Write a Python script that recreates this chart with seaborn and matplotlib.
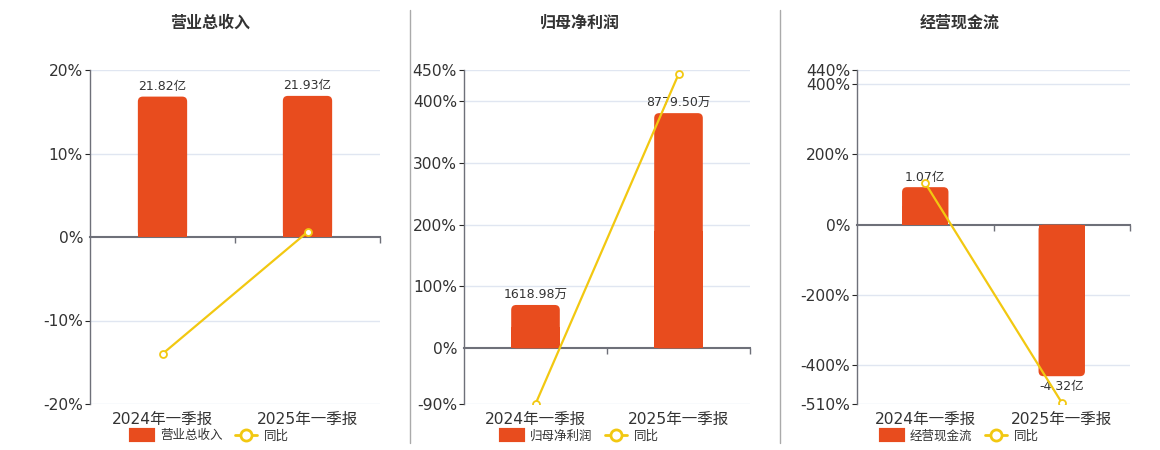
import pandas as pd
import matplotlib.pyplot as plt
import seaborn as sns
from matplotlib.patches import FancyBboxPatch, Rectangle, Patch
from matplotlib.lines import Line2D


periods = ["2024年一季报", "2025年一季报"]

revenue = [21.82, 21.93]          # 亿
revenue_yoy = [-14.0, 0.6]        # %
revenue_ticks = [-20, -10, 0, 10, 20]

net_profit = [1618.98, 8779.50]   # 万
net_profit_yoy = [-90.0, 443.0]
net_profit_ticks = [-90, 0, 100, 200, 300, 400, 450]

cash_flow = [1.07, -4.32]         # 亿
cash_flow_yoy = [118.0, -506.0]
cash_flow_ticks = [-510, -400, -200, 0, 200, 400, 440]

BAR = "#E84C1E"
LINE = "#F2C811"
GRID = "#E0E6F1"
AXIS = "#6E7079"
TEXT = "#333333"

sns.set_style("white")
plt.rcParams["font.family"] = ["DejaVu Sans", "Noto Sans CJK SC"]

W, H = 1160, 450
fig = plt.figure(figsize=(W / 100, H / 100), dpi=100)

# title, bars, yoy, ticks, unit, axes left/right px, container centre px
panels = [
    ("营业总收入", revenue, revenue_yoy, revenue_ticks, "亿", 90, 380, 210),
    ("归母净利润", net_profit, net_profit_yoy, net_profit_ticks, "万", 464, 750, 580),
    ("经营现金流", cash_flow, cash_flow_yoy, cash_flow_ticks, "亿", 857, 1130, 960),
]

for title, vals, yoy, ticks, unit, x0, x1, cx in panels:
    lo, hi = ticks[0], ticks[-1]
    ax = fig.add_axes([x0 / W, 46 / H, (x1 - x0) / W, 334 / H])

    df = pd.DataFrame({"period": periods, "value": vals})
    sns.barplot(data=df, x="period", y="value", color=BAR, saturation=1,
                width=0.34, ax=ax)

    # bar axis scaled so zero lines up with the percent axis
    big = max(vals, key=abs)
    k = abs(big) / (0.845 * (hi if big > 0 else -lo))
    ax.set_xlim(-0.5, 1.5)
    ax.set_ylim(lo * k, hi * k)
    ax.set_yticks([t * k for t in ticks if t != 0])
    ax.yaxis.grid(True, color=GRID, lw=1)
    ax.tick_params(axis="y", left=False, labelleft=False)
    ax.tick_params(axis="x", length=0, pad=6, labelsize=11.2, labelcolor=TEXT)
    ax.set_xlabel("")
    ax.set_ylabel("")
    for s in ax.spines.values():
        s.set_visible(False)

    ax.bar_label(ax.containers[0], labels=[f"{v:.2f}{unit}" for v in vals],
                 padding=2.5, fontsize=9, color=TEXT)

    # rounded bar ends
    pxx = ax.bbox.width / 2
    pxy = ax.bbox.height / ((hi - lo) * k)
    r = 5 / pxx
    for p in list(ax.patches):
        x, w, h = p.get_x(), p.get_width(), p.get_height()
        p.set_visible(False)
        ax.add_patch(FancyBboxPatch((x, min(0, h)), w, abs(h),
                                    boxstyle=f"round,pad=0,rounding_size={r}",
                                    mutation_aspect=pxx / pxy,
                                    fc=BAR, ec="none", zorder=2))
        ax.add_patch(Rectangle((x, 0), w, h / 2, fc=BAR, ec="none", zorder=2))

    # zero line with category ticks
    sec = ax.secondary_xaxis(-lo / (hi - lo))
    sec.set_alignment("bottom")
    sec.set_xticks([0.5, 1.5], labels=["", ""])
    sec.tick_params(length=4, width=1, color=AXIS)
    sec.spines["bottom"].set_color(AXIS)
    sec.spines["bottom"].set_linewidth(1.5)

    # yoy line on the percent axis
    ax2 = ax.twinx()
    sns.lineplot(x=[0, 1], y=yoy, ax=ax2, color=LINE, lw=1.6, marker="o",
                 markersize=5, markerfacecolor="white", markeredgecolor=LINE,
                 markeredgewidth=1.3)
    ax2.set_xlim(-0.5, 1.5)
    ax2.set_ylim(lo, hi)
    ax2.set_yticks(ticks, labels=[f"{t}%" for t in ticks])
    ax2.yaxis.tick_left()
    ax2.tick_params(axis="y", length=0, pad=5, labelsize=11.2, labelcolor=TEXT)
    ax2.set_ylabel("")
    for name, s in ax2.spines.items():
        s.set_visible(name == "left")
    ax2.spines["left"].set_color(AXIS)
    ax2.spines["left"].set_linewidth(1)

    fig.text(cx / W, 1 - 23 / H, title, ha="center", va="center",
             fontsize=11.5, weight="bold", color=TEXT)

    handles = [
        Patch(fc=BAR, ec=BAR, lw=3, joinstyle="round"),
        Line2D([], [], color=LINE, lw=2, marker="o", markersize=8,
               markerfacecolor="white", markeredgecolor=LINE, markeredgewidth=2),
    ]
    leg = fig.legend(handles, [title, "同比"], loc="center",
                     bbox_to_anchor=(cx / W, 1 - 436 / H), ncol=2, frameon=False,
                     fontsize=9, handlelength=1.75, handleheight=0.9,
                     columnspacing=1.0, handletextpad=0.6)
    for t in leg.get_texts():
        t.set_color(TEXT)

for xs in (410, 780):
    fig.add_artist(Line2D([xs / W, xs / W], [1 - 10 / H, 1 - 443 / H],
                          color="#AAAAAA", lw=1))

fig.savefig("out.png", dpi=100)
